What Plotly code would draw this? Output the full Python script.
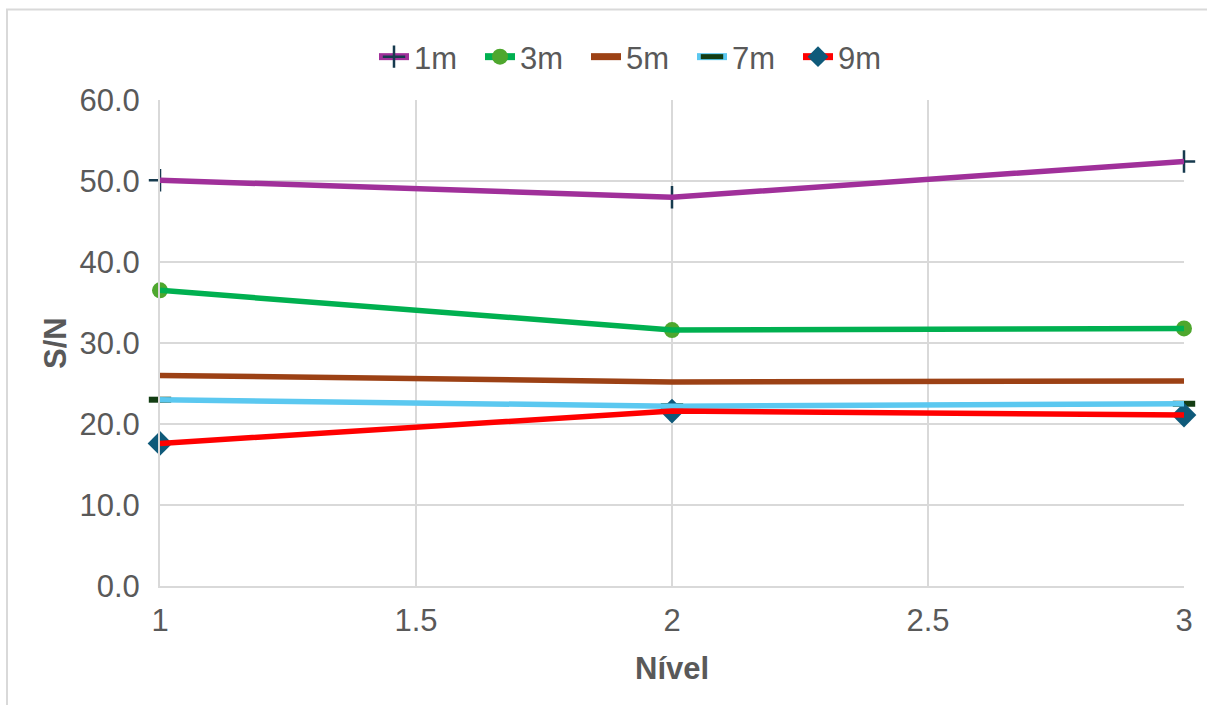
import plotly.graph_objects as go

# Signal-to-noise ratio per level for each distance
niveis = [1, 2, 3]
series_names = ["1m", "3m", "5m", "7m", "9m"]
sn_1m = [50.1, 48.0, 52.4]
sn_3m = [36.5, 31.6, 31.8]
sn_5m = [26.0, 25.2, 25.3]
sn_7m = [23.0, 22.2, 22.5]
sn_9m = [17.6, 21.6, 21.1]

y_ticks = [0, 10, 20, 30, 40, 50, 60]
x_ticks = [1, 1.5, 2, 2.5, 3]

styles = {
    "1m": dict(line="#a0309a", marker=dict(symbol="cross-thin", size=16, color="#163a4e",
                                           line=dict(width=2.5, color="#163a4e"))),
    "3m": dict(line="#00b050", marker=dict(symbol="circle", size=16, color="#4ea72e",
                                           line=dict(width=0))),
    "5m": dict(line="#9c4115", marker=None),
    "7m": dict(line="#5bc8f0", marker=dict(symbol="line-ew", size=16, color="#133d13",
                                           line=dict(width=6, color="#133d13"))),
    "9m": dict(line="#ff0000", marker=dict(symbol="diamond", size=19, color="#0f5a7a",
                                           line=dict(width=0))),
}
values = {"1m": sn_1m, "3m": sn_3m, "5m": sn_5m, "7m": sn_7m, "9m": sn_9m}

fig = go.Figure()

# markers sit beneath the lines
for name in series_names:
    st = styles[name]
    if st["marker"] is not None:
        fig.add_trace(go.Scatter(x=niveis, y=values[name], mode="markers",
                                 marker=st["marker"], showlegend=False,
                                 hoverinfo="skip", cliponaxis=False))

for name in series_names:
    st = styles[name]
    fig.add_trace(go.Scatter(x=niveis, y=values[name], mode="lines", name=name,
                             line=dict(color=st["line"], width=5.5),
                             showlegend=False, cliponaxis=False))

# legend entries
for name in series_names:
    st = styles[name]
    kw = dict(mode="lines", line=dict(color=st["line"], width=7))
    if st["marker"] is not None:
        kw["mode"] = "lines+markers"
        kw["marker"] = st["marker"]
    fig.add_trace(go.Scatter(x=[None], y=[None], name=name, **kw))

W, H = 1207, 705
L, R, T, B = 160, 1184, 100, 586
pw, ph = R - L, B - T

def px_x(p):
    return (p - L) / pw

def px_y(p):
    return (B - p) / ph

font_family = "Liberation Sans, Arial, sans-serif"
grey = "#595959"
fs = 31

fig.update_layout(
    width=W, height=H,
    margin=dict(l=L, r=W - R, t=T, b=H - B),
    paper_bgcolor="white", plot_bgcolor="white",
    font=dict(family=font_family, size=fs, color=grey),
    legend=dict(orientation="h", x=px_x(639), xanchor="center",
                y=px_y(57), yanchor="middle",
                font=dict(size=fs, color=grey), itemwidth=30,
                entrywidth=61, entrywidthmode="pixels",
                tracegroupgap=0, bgcolor="rgba(0,0,0,0)"),
    xaxis=dict(range=[1, 3], tickvals=x_ticks, ticktext=[f"{v:g}" for v in x_ticks],
               showgrid=True, gridcolor="#d9d9d9", gridwidth=2,
               showline=True, linecolor="#d9d9d9", linewidth=2,
               zeroline=False, ticks="", ticklabelstandoff=6,
               tickfont=dict(size=fs, color=grey)),
    yaxis=dict(range=[0, 60], tickvals=y_ticks, ticktext=[f"{v:.1f}" for v in y_ticks],
               showgrid=True, gridcolor="#d9d9d9", gridwidth=2,
               showline=True, linecolor="#d9d9d9", linewidth=2,
               zeroline=False, ticks="", ticklabelstandoff=12,
               tickfont=dict(size=fs, color=grey)),
    shapes=[dict(type="rect", xref="paper", yref="paper",
                 x0=px_x(7), x1=px_x(1230), y0=px_y(9.5), y1=px_y(730),
                 line=dict(color="#d9d9d9", width=2), fillcolor="rgba(0,0,0,0)",
                 layer="below")],
    annotations=[
        dict(text="<b>S/N</b>", xref="paper", yref="paper", x=px_x(55), y=px_y(343),
             textangle=-90, showarrow=False, xanchor="center", yanchor="middle",
             font=dict(size=fs, color=grey)),
        dict(text="<b>Nível</b>", xref="paper", yref="paper", x=px_x(672), y=px_y(668),
             showarrow=False, xanchor="center", yanchor="middle",
             font=dict(size=fs, color=grey)),
    ],
)

fig.write_html("out.html")
